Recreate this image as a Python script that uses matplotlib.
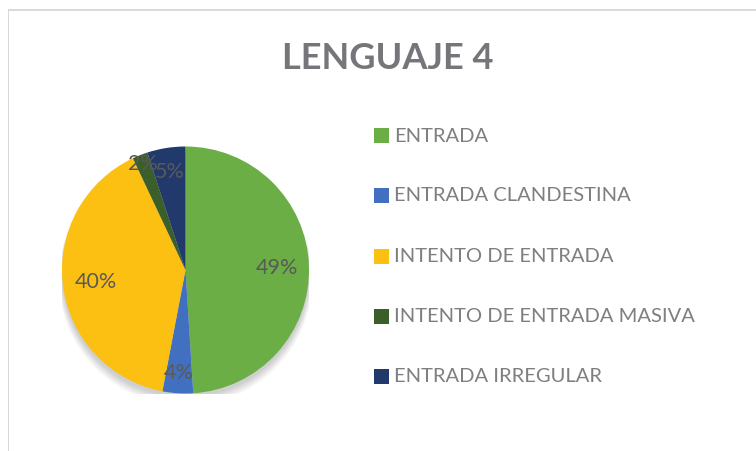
import numpy as np
import matplotlib
matplotlib.use("Agg")
import matplotlib.pyplot as plt
from matplotlib.patches import Rectangle, Circle

categories = ["ENTRADA", "ENTRADA CLANDESTINA", "INTENTO DE ENTRADA",
              "INTENTO DE ENTRADA MASIVA", "ENTRADA IRREGULAR"]
values = [49, 4, 40, 2, 5]
colors = ["#6AAE45", "#4170C0", "#FBC012", "#3B5F2A", "#213A6B"]
label_dist = [0.74, 0.83, 0.73, 0.93, 0.81]

W, H = 756, 452
plt.rcParams["font.family"] = ["Lato", "DejaVu Sans"]

fig = plt.figure(figsize=(W / 100, H / 100), dpi=100)

# chart frame: left and top edges, drawn as thin filled strips
fig.patches.append(Rectangle((7.5 / W, 0.0), 1.6 / W, 1 - 9.5 / H,
                             transform=fig.transFigure, facecolor="#D9D9D9", edgecolor="none"))
fig.patches.append(Rectangle((7.5 / W, 1 - 11.5 / H), 1.0, 1.8 / H,
                             transform=fig.transFigure, facecolor="#D9D9D9", edgecolor="none"))

cx, cy, r = 185.5, 271, 123.5
ax = fig.add_axes([(cx - r) / W, (H - cy - r) / H, 2 * r / W, 2 * r / H])

# soft shadow under pie
for k in range(8):
    ax.add_patch(Circle((0.0, -0.03 - 0.006 * k), 1.0 + 0.004 * k, color="black",
                        alpha=0.025, zorder=0, linewidth=0))

wedges, _ = ax.pie(values, colors=colors, startangle=90, counterclock=False,
                   radius=1.0, wedgeprops=dict(linewidth=0, zorder=2))
for w, v, d in zip(wedges, values, label_dist):
    ang = np.deg2rad((w.theta1 + w.theta2) / 2)
    ax.text(d * np.cos(ang), d * np.sin(ang), f"{v}%", ha="center", va="center",
            fontsize=15.5, color="#595959", zorder=5)
ax.set_xlim(-1, 1)
ax.set_ylim(-1, 1)
ax.set_aspect("equal")
ax.axis("off")

fig.text(387.5 / W, 1 - 58.5 / H, "LENGUAJE 4", ha="center", va="center",
         fontsize=26, fontweight="bold", color="#76767A")

# legend
row_y = [136, 196, 257, 317, 377]
for lab, col, y in zip(categories, colors, row_y):
    fig.patches.append(Rectangle((374 / W, 1 - (y + 7.5) / H), 15 / W, 15 / H,
                                 transform=fig.transFigure, facecolor=col, edgecolor="none"))
    fig.text(394 / W, 1 - y / H, lab, ha="left", va="center",
             fontsize=14.5, color="#7F7F7F")

fig.savefig("out.png", dpi=100)
